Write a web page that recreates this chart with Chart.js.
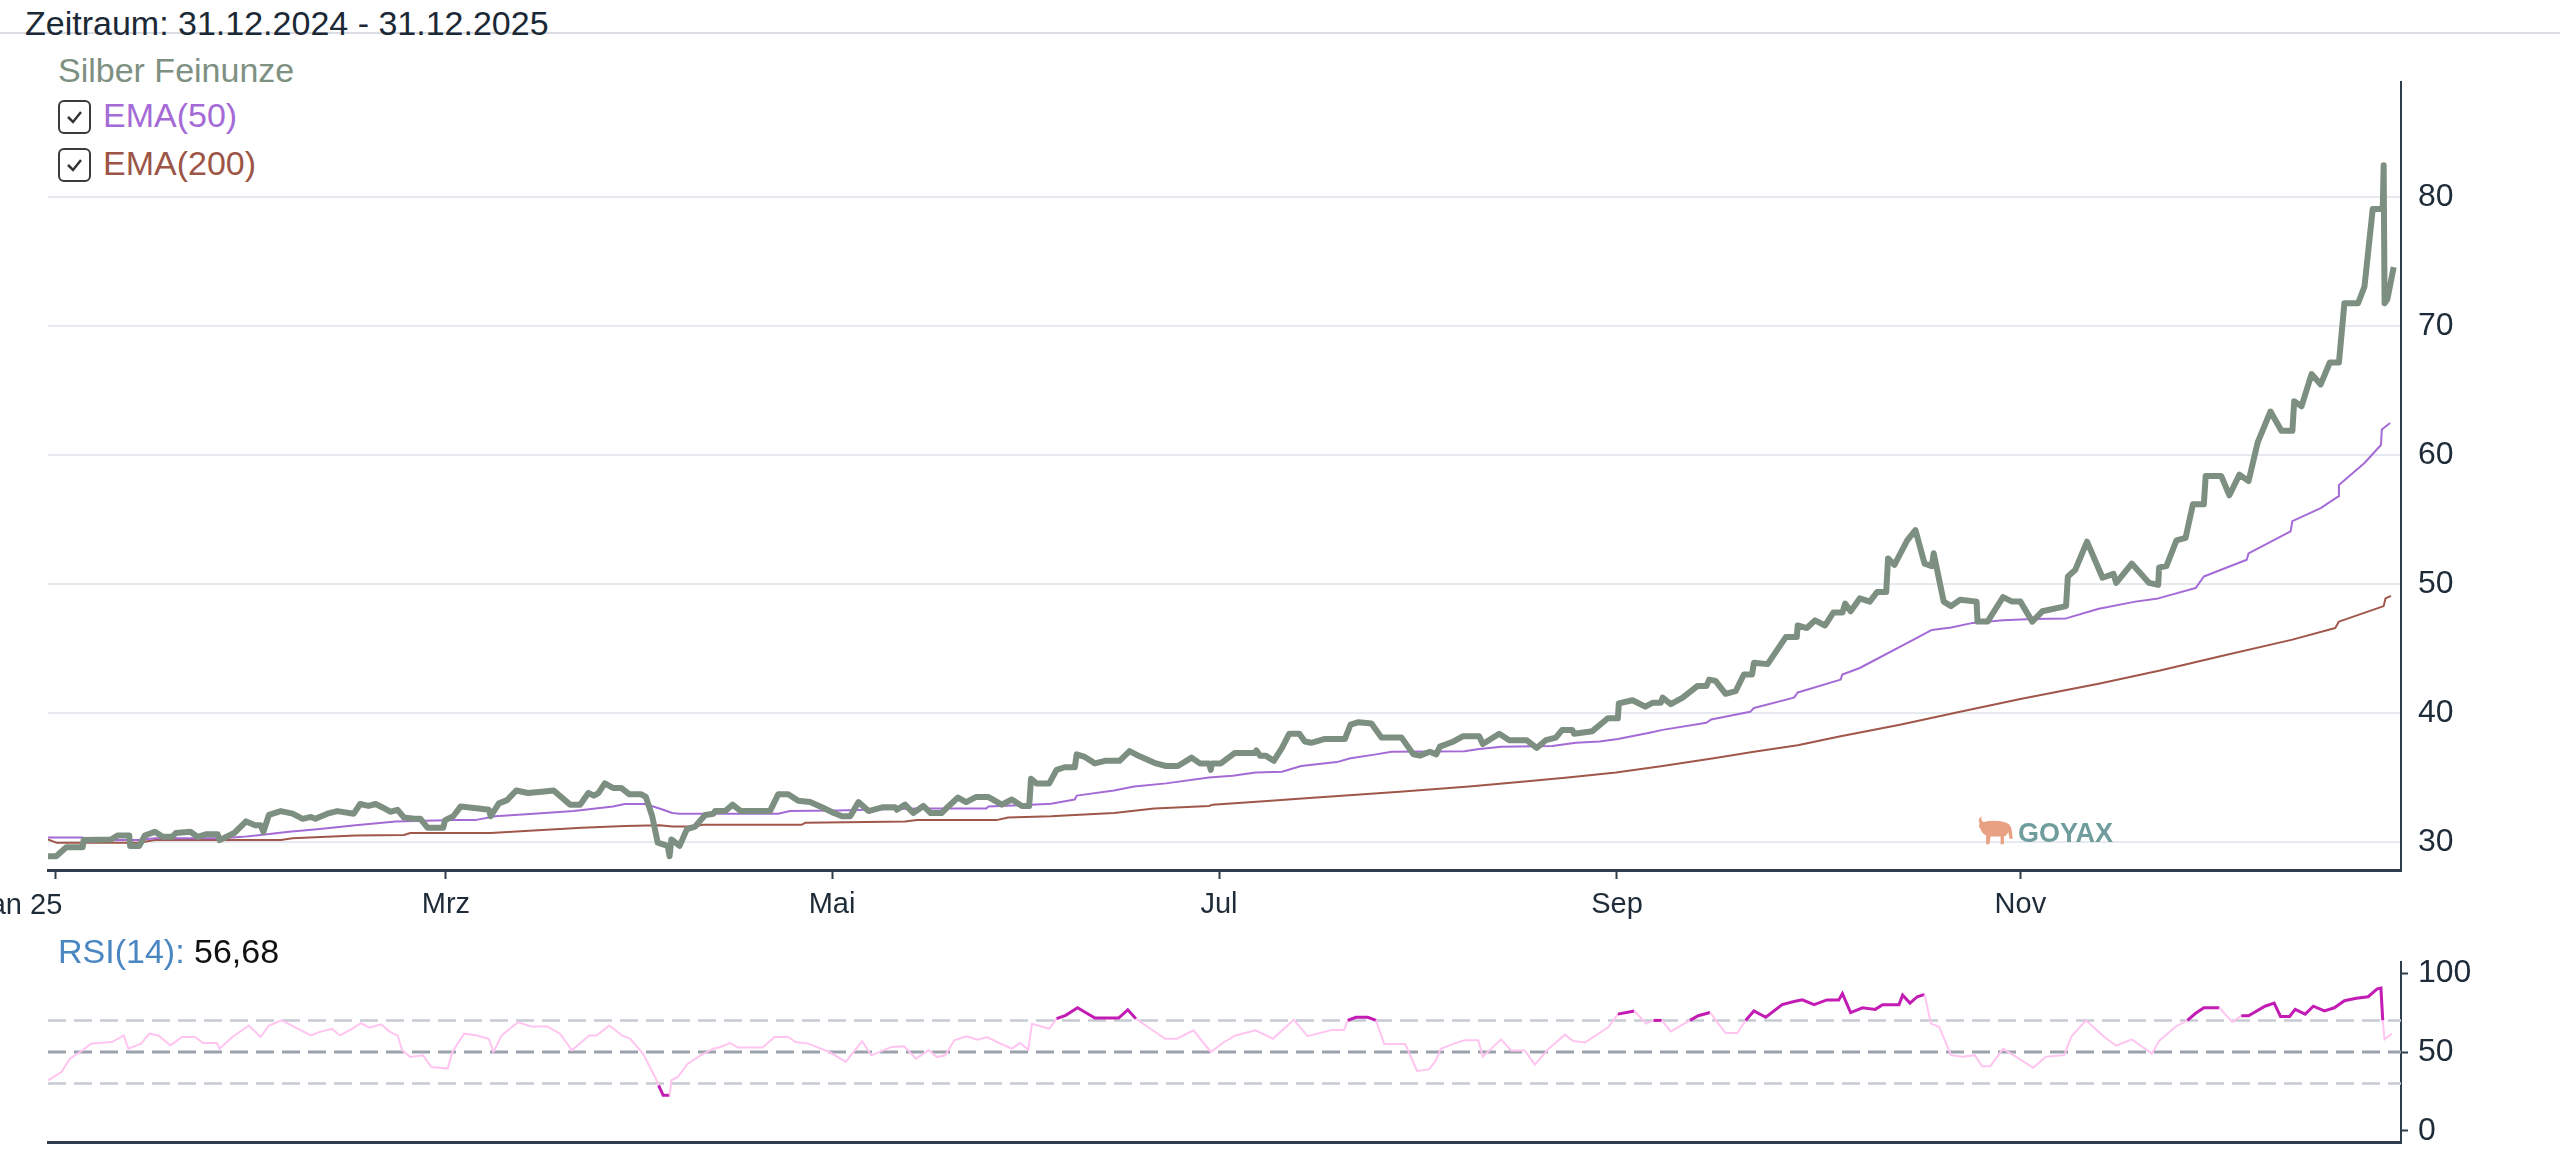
<!DOCTYPE html>
<html lang="de">
<head>
<meta charset="utf-8">
<title>Silber Feinunze</title>
<script src="https://cdn.jsdelivr.net/npm/chart.js@4.4.1/dist/chart.umd.min.js"></script>
<style>
  html, body { margin: 0; padding: 0; background: #fff; }
  body { width: 2560px; height: 1152px; position: relative; overflow: hidden; font-family: 'Liberation Sans', Arial, sans-serif; }
  .abs { position: absolute; line-height: 1; white-space: nowrap; }
  #rule { position: absolute; left: 0; top: 32px; width: 2560px; height: 2px; background: #dadde3; }
  #period { left: 25px; top: 6px; font-size: 34px; color: #1b2836; }
  #seriesName { left: 58px; top: 53px; font-size: 34px; color: #7e9082; }
  .ema { left: 103px; font-size: 34px; }
  #ema50Label { top: 98px; color: #a46bd6; }
  #ema200Label { top: 146px; color: #9c5547; }
  .box { position: absolute; left: 58px; }
  #rsiLabel { left: 58px; top: 934px; font-size: 34px; }
  #rsiLabel .name { color: #4a86c2; }
  #rsiLabel .val { color: #111; }
  #logoText { left: 2018px; top: 820px; font-size: 27px; font-weight: bold; color: #6f9c9c; }
  #logoBull { position: absolute; left: 1975px; top: 814px; }
  canvas { position: absolute; left: 0; }
  #priceChart { top: 0; }
  #rsiChart { top: 940px; }
</style>
</head>
<body>
<div id="rule"></div>
<div id="period" class="abs">Zeitraum: 31.12.2024 - 31.12.2025</div>
<div id="seriesName" class="abs">Silber Feinunze</div>
<svg class="box" style="top:100px" width="34" height="35"><rect x="1" y="1" width="31" height="32" rx="5" fill="#fff" stroke="#3a3a3a" stroke-width="2"/><path d="M10 17 L15 22 L23 12" fill="none" stroke="#333" stroke-width="2.5"/></svg>
<div id="ema50Label" class="abs ema">EMA(50)</div>
<svg class="box" style="top:148px" width="34" height="35"><rect x="1" y="1" width="31" height="32" rx="5" fill="#fff" stroke="#3a3a3a" stroke-width="2"/><path d="M10 17 L15 22 L23 12" fill="none" stroke="#333" stroke-width="2.5"/></svg>
<div id="ema200Label" class="abs ema">EMA(200)</div>

<canvas id="priceChart" width="2560" height="940" style="width:2560px;height:940px"></canvas>
<canvas id="rsiChart" width="2560" height="212" style="width:2560px;height:212px"></canvas>

<div id="rsiLabel" class="abs"><span class="name">RSI(14):</span> <span class="val">56,68</span></div>
<svg id="logoBull" width="40" height="34" viewBox="0 0 36 30"><path fill="#e9a184" d="M4 8 Q2 4 6 2 Q5 6 8 7 L12 6 Q20 5 26 7 Q32 8 33 14 L34 22 L31 22 L30 16 Q28 20 26 20 L26 27 L23 27 L23 20 L14 20 L13 27 L10 27 L10 19 Q6 17 5 13 Q3 12 4 8Z"/></svg>
<div id="logoText" class="abs">GOYAX</div>

<script>
// x = trading day index (0 = 31.12.2024), y = value
const priceSeries = [
  [0,28.9],[0.9,28.9],[2.0,29.6],[3.8,29.6],[3.9,30.15],[6.9,30.2],[7.6,30.5],[8.9,30.5],[9.0,29.7],[10.0,29.7],
  [10.6,30.5],[11.7,30.8],[12.6,30.4],[13.6,30.4],[14.0,30.7],[15.6,30.8],[16.4,30.4],[17.3,30.6],[18.6,30.6],[18.8,30.15],
  [20.4,30.7],[21.7,31.6],[22.7,31.3],[23.3,31.3],[23.6,30.8],[24.2,32.1],[25.5,32.4],[26.8,32.2],[27.9,31.8],[28.8,31.95],
  [29.3,31.8],[30.6,32.2],[31.7,32.4],[33.5,32.2],[34.2,32.95],[35.1,32.8],[35.9,32.95],[36.6,32.7],[37.5,32.35],[38.3,32.5],
  [39.0,31.9],[40.1,31.8],[40.8,31.8],[41.6,31.1],[43.3,31.1],[43.5,31.7],[44.4,32.0],[45.2,32.75],[47.2,32.6],[48.3,32.5],
  [48.5,32.0],[49.4,33.0],[50.3,33.25],[51.3,34.0],[52.6,33.8],[54.1,33.9],[55.4,34.0],[57.2,32.9],[58.3,32.9],[59.2,33.8],
  [59.8,33.6],[60.3,33.8],[61.0,34.55],[61.9,34.2],[62.8,34.2],[63.7,33.7],[65.0,33.7],[65.5,33.5],[66.2,32.0],[66.8,29.95],
  [67.9,29.7],[68.1,28.9],[68.3,30.2],[69.2,29.7],[70.0,31.0],[70.9,31.2],[72.0,32.1],[72.9,32.2],[73.1,32.4],[74.2,32.4],
  [75.0,32.9],[75.9,32.4],[79.1,32.4],[80.0,33.7],[81.1,33.7],[82.2,33.2],[83.5,33.1],[84.8,32.7],[86.1,32.25],[87.0,32.0],
  [87.9,32.0],[88.8,33.1],[89.9,32.4],[91.5,32.7],[92.8,32.7],[93.0,32.5],[93.9,32.9],[94.8,32.25],[95.9,32.8],[96.7,32.25],
  [97.9,32.25],[98.4,32.6],[99.7,33.45],[100.6,33.1],[101.7,33.5],[103.0,33.5],[104.5,32.9],[105.6,33.3],[106.7,32.8],[107.5,32.8],
  [107.7,34.9],[108.3,34.55],[109.7,34.55],[110.5,35.6],[111.4,35.8],[112.5,35.8],[112.7,36.8],[113.6,36.6],[114.7,36.1],[115.8,36.3],
  [117.4,36.3],[118.5,37.05],[119.6,36.65],[121.4,36.1],[122.5,35.9],[123.8,35.9],[125.3,36.55],[126.2,36.1],[127.2,36.1],[127.4,35.6],
  [127.5,36.1],[128.5,36.1],[130.0,36.9],[132.2,36.9],[132.4,37.1],[132.8,36.7],[133.4,36.7],[134.3,36.3],[135.2,37.3],[136.0,38.4],
  [137.1,38.4],[137.7,37.8],[138.4,37.7],[139.9,38.0],[142.1,38.0],[142.7,39.1],[143.6,39.3],[145.0,39.2],[146.1,38.1],[148.3,38.1],
  [149.6,36.8],[150.3,36.7],[151.4,37.0],[152.1,36.8],[152.5,37.4],[154.0,37.8],[155.0,38.2],[156.8,38.2],[157.2,37.6],[159.0,38.4],
  [160.1,37.9],[162.0,37.9],[163.1,37.3],[164.1,37.9],[165.2,38.1],[165.9,38.7],[167.0,38.7],[167.2,38.4],[169.2,38.6],[170.9,39.6],
  [172.0,39.6],[172.1,40.75],[173.6,41.0],[175.0,40.5],[175.8,40.8],[176.7,40.8],[176.9,41.2],[177.8,40.7],[179.1,41.2],[180.7,42.1],
  [181.7,42.1],[182.0,42.6],[182.7,42.5],[183.8,41.5],[184.9,41.7],[185.8,43.0],[186.7,43.0],[186.9,43.9],[188.4,43.8],[190.4,45.9],
  [191.6,45.9],[191.7,46.8],[192.7,46.6],[193.6,47.2],[194.7,46.8],[195.6,47.8],[196.6,47.8],[196.9,48.5],[197.5,47.9],[198.5,48.9],
  [199.6,48.65],[200.4,49.4],[201.4,49.4],[201.6,52.0],[202.3,51.5],[203.7,53.4],[204.6,54.2],[205.6,51.6],[206.4,51.4],[206.6,52.4],
  [207.7,48.65],[208.5,48.3],[209.5,48.8],[211.3,48.65],[211.4,47.1],[212.5,47.1],[214.2,49.0],[215.2,48.65],[216.1,48.65],[217.4,47.1],
  [218.5,47.9],[221.1,48.3],[221.3,50.6],[222.1,51.1],[223.4,53.3],[225.1,50.5],[226.3,50.8],[226.6,50.1],[228.3,51.6],[230.2,50.1],
  [231.2,49.95],[231.3,51.3],[232.1,51.4],[233.2,53.4],[234.2,53.6],[235.0,56.2],[236.2,56.2],[236.4,58.4],[238.1,58.4],[239.0,56.9],
  [240.1,58.5],[241.1,58.0],[242.1,61.0],[243.5,63.4],[244.7,61.9],[245.9,61.9],[246.1,64.2],[246.9,63.8],[248.0,66.3],[249.0,65.5],
  [250.0,67.2],[251.0,67.2],[251.6,71.8],[253.1,71.8],[253.8,73.1],[254.7,79.1],[255.8,79.1],[255.9,82.5],[256.0,71.8],[256.3,72.1],
  [257.0,74.6]
];

const ema50Series = [
  [0,30.35],[3.8,30.35],[3.9,30.15],[10.0,30.15],[11.7,30.3],[19.1,30.3],[21.3,30.4],[23.3,30.55],[26.4,30.8],[29.5,31.0],
  [33.7,31.3],[38.1,31.6],[44.6,31.7],[46.8,31.7],[49.0,32.0],[53.2,32.2],[57.6,32.4],[61.9,32.75],[63.2,32.95],[65.4,32.95],
  [67.0,32.6],[68.4,32.25],[69.2,32.2],[80.0,32.2],[81.3,32.4],[86.5,32.45],[95.2,32.6],[102.8,32.6],[103.0,32.75],[107.7,32.9],
  [109.9,32.97],[112.5,33.3],[112.7,33.6],[116.8,34.0],[119.0,34.3],[122.5,34.55],[127.2,35.0],[129.8,35.15],[132.3,35.4],[135.2,35.45],
  [137.3,35.9],[141.2,36.2],[142.7,36.5],[145.5,36.8],[147.2,37.0],[155.2,37.05],[156.6,37.2],[159.2,37.4],[164.8,37.45],[167.4,37.7],
  [170.0,37.8],[172.0,38.0],[175.6,38.5],[176.9,38.7],[181.7,39.25],[182.2,39.5],[186.5,40.1],[186.9,40.4],[191.3,41.2],[191.7,41.6],
  [196.4,42.6],[196.6,43.0],[198.5,43.5],[204.4,45.7],[206.4,46.45],[208.5,46.65],[210.9,47.0],[214.2,47.2],[217.4,47.3],[221.1,47.35],
  [224.7,48.1],[228.7,48.65],[231.2,48.9],[235.3,49.7],[236.2,50.6],[240.9,51.9],[241.1,52.4],[245.7,54.1],[245.9,54.9],[249.0,55.9],
  [250.9,56.8],[251.0,57.7],[253.8,59.4],[255.6,60.8],[255.7,62.0],[256.6,62.5]
];

const ema200Series = [
  [0,30.2],[0.9,29.95],[10.0,29.95],[11.7,30.15],[25.5,30.15],[26.8,30.3],[33.7,30.5],[39.0,30.55],[39.7,30.7],[48.5,30.7],
  [53.2,30.9],[58.5,31.1],[63.2,31.25],[67.0,31.3],[68.4,31.2],[70.9,31.2],[71.8,31.35],[82.6,31.35],[83.0,31.5],[93.9,31.6],
  [95.2,31.7],[103.9,31.7],[105.2,31.9],[109.9,32.0],[112.5,32.1],[116.8,32.25],[121.2,32.6],[127.2,32.8],[127.6,32.9],[132.8,33.15],
  [137.8,33.4],[148.1,33.9],[155.7,34.3],[161.8,34.7],[166.5,35.0],[171.8,35.4],[176.9,35.9],[182.5,36.5],[186.9,37.0],[191.7,37.5],
  [196.4,38.2],[202.9,39.1],[209.5,40.1],[216.1,41.1],[224.8,42.3],[231.4,43.3],[237.9,44.4],[245.9,45.7],[250.6,46.6],[251.0,47.1],
  [255.9,48.3],[256.1,48.9],[256.7,49.1]
];

const rsiSeries = [
  [0,32],[1.5,37.4],[2.4,45.8],[3.8,51.1],[4.7,55.3],[7.0,56.3],[8.3,60.5],[8.8,52.1],[10.2,55.3],[11.1,61.6],
  [12.1,60.5],[13.4,54.2],[14.7,59.5],[16.1,59.5],[17.0,55.7],[18.5,55.7],[18.8,52.1],[20.2,59.5],[22.0,66.8],[23.3,59.5],
  [24.2,66.8],[25.6,70.0],[27.4,64.7],[28.8,60.5],[29.7,62.6],[31.1,64.7],[32.0,60.5],[33.3,64.7],[34.3,68.3],[35.2,65.4],
  [36.5,67.5],[37.5,62.6],[38.3,60.5],[38.8,51.1],[39.7,46.8],[41.1,47.9],[42.0,40.5],[43.8,39.5],[44.3,50.0],[45.6,61.6],
  [47.0,60.5],[48.3,58.4],[48.8,50.0],[49.7,60.5],[51.5,68.9],[52.9,66.2],[54.7,66.2],[56.1,61.6],[57.4,51.1],[59.3,60.5],
  [60.1,60.5],[61.5,66.8],[62.9,60.5],[63.8,58.4],[65.2,48.9],[66.5,34.2],[66.9,28.9],[67.4,22.6],[68.1,22.6],[68.3,32.1],
  [69.0,34.2],[70.1,42.6],[71.5,47.9],[72.9,52.1],[73.7,53.2],[74.7,55.7],[75.6,52.8],[78.3,52.8],[79.6,59.5],[81.1,59.5],
  [81.9,56.3],[83.3,55.3],[85.6,50.0],[87.4,43.7],[89.2,56.9],[90.2,47.9],[92.4,53.2],[93.8,53.6],[95.1,45.8],[96.5,51.1],
  [97.4,46.8],[98.3,47.9],[99.3,57.4],[100.6,59.9],[101.9,57.8],[102.9,59.5],[104.2,55.7],[105.6,52.1],[106.5,55.7],[107.4,51.5],
  [107.8,67.9],[109.7,64.7],[110.5,71.1],[111.5,73.2],[112.8,78.0],[114.7,71.5],[117.3,71.5],[118.3,76.7],[119.2,71.1],[120.5,65.8],
  [122.4,58.4],[123.7,58.4],[125.5,63.7],[127.4,50.0],[128.7,55.7],[130.1,60.5],[132.3,63.7],[134.2,58.4],[136.5,70.4],[138.0,60],
  [140.7,64],[142.0,64],[142.4,70],[143.3,72],[144.6,72],[145.5,70],[146.4,55],[148.7,55],[150.0,38],[151.3,39],
  [152.0,44],[152.6,52],[153.9,55],[155.2,57.5],[156.7,57.5],[157.2,47],[159.2,58],[160.3,51],[161.8,51],[162.9,42],
  [164.4,52],[166.2,61],[167.1,57],[168.4,56],[171.0,66],[172.0,74],[173.8,76],[175.1,68],[175.9,70],[176.8,70],
  [177.8,63],[179.9,70],[180.8,73],[182.1,75],[183.0,68],[183.8,62],[185.1,62],[186.0,70],[186.9,76],[188.2,72],
  [190.0,80],[191.3,82],[192.2,83],[193.5,80],[194.9,83],[196.2,83],[196.6,87],[197.5,75],[198.8,78],[200.2,77],
  [201.0,80],[202.8,80],[203.2,86],[204.0,81],[204.8,85],[205.6,86.5],[206.3,68],[207.2,66],[208.5,48],[209.8,47],
  [211.1,48],[211.9,41],[212.8,41],[214.2,52],[215.9,46],[217.5,40],[218.9,47],[220.9,48],[221.7,60],[223.3,70],
  [225.2,60],[226.1,56],[226.6,54],[228.3,58],[230.5,49],[231.3,57],[233.1,66],[234.4,70],[235.3,74.5],[236.2,78],
  [237.9,78],[239.3,69],[240.3,73],[241.1,73],[242.9,79],[243.9,81],[244.6,72.5],[245.6,72.5],[246.2,77],[247.3,74],
  [248.2,79],[249.4,76],[250.5,78],[251.6,82.5],[252.9,84],[254.2,85],[255.2,90],[255.6,90.5],[255.8,70],[256.0,58],
  [256.8,61.6]
];

const monthTickIdx = [0.8, 43.6, 85.9, 128.3, 171.9, 216.1];
const monthLabels = ['Jan 25', 'Mrz', 'Mai', 'Jul', 'Sep', 'Nov'];
const priceTicks = [30, 40, 50, 60, 70, 80];
const rsiTicks = [0, 50, 100];
const rsiLevels = [30, 50, 70];

const X_MAX = 257.8;
const AXIS_COLOR = '#2f3e4d';
const TEXT_COLOR = '#1e2b38';
const FONT_FAMILY = "'Liberation Sans', Arial, sans-serif";
const X_FONT = { family: FONT_FAMILY, size: 29 };
const Y_FONT = { family: FONT_FAMILY, size: 32 };

Chart.defaults.font.family = FONT_FAMILY;
Chart.defaults.animation = false;

const toPoints = series => series.map(p => ({ x: p[0], y: p[1] }));

// keep the plot area exactly where the layout padding puts it
const noOverhang = s => { s.paddingTop = 0; s.paddingBottom = 0; s.paddingLeft = 0; s.paddingRight = 0; };

// Jan label sits left of its tick and is cut by the page edge
const firstMonthLabel = {
    id: 'firstMonthLabel',
    afterDraw(chart) {
        const sx = chart.scales.x;
        const ctx = chart.ctx;
        ctx.save();
        ctx.font = X_FONT.size + 'px ' + X_FONT.family;
        ctx.fillStyle = TEXT_COLOR;
        ctx.textAlign = 'right';
        ctx.textBaseline = 'middle';
        ctx.fillText(monthLabels[0], sx.getPixelForValue(monthTickIdx[0]) + 7, sx.top + 36);
        ctx.restore();
    }
};

new Chart(document.getElementById('priceChart'), {
    type: 'line',
    data: {
        datasets: [
            { label: 'Silber Feinunze', data: toPoints(priceSeries), borderColor: '#7d8f81', borderWidth: 6, order: 0 },
            { label: 'EMA(50)', data: toPoints(ema50Series), borderColor: '#a46bd6', borderWidth: 2, order: 1 },
            { label: 'EMA(200)', data: toPoints(ema200Series), borderColor: '#a0574a', borderWidth: 2, order: 2 }
        ]
    },
    options: {
        responsive: false,
        animation: false,
        elements: {
            point: { radius: 0 },
            line: { tension: 0, borderJoinStyle: 'round', fill: false }
        },
        layout: { padding: { left: 48, top: 82, right: 0, bottom: 0 } },
        plugins: { legend: { display: false }, tooltip: { enabled: false } },
        scales: {
            x: {
                type: 'linear',
                min: 0,
                max: X_MAX,
                afterBuildTicks: s => { s.ticks = monthTickIdx.map(v => ({ value: v })); },
                afterFit: s => { s.height = 70; noOverhang(s); },
                grid: { drawOnChartArea: false, drawTicks: true, tickLength: 9, tickColor: AXIS_COLOR, tickWidth: 2 },
                border: { display: true, color: AXIS_COLOR, width: 3 },
                ticks: {
                    autoSkip: false,
                    maxRotation: 0,
                    padding: 9,
                    font: X_FONT,
                    color: TEXT_COLOR,
                    callback: (v, i) => i === 0 ? '' : monthLabels[i]
                }
            },
            y: {
                position: 'right',
                min: 27.83,
                max: 88.96,
                afterBuildTicks: s => { s.ticks = priceTicks.map(v => ({ value: v })); },
                afterFit: s => { s.width = 159; noOverhang(s); },
                grid: { color: '#e6e9ef', lineWidth: 2, drawTicks: false },
                border: { display: true, color: AXIS_COLOR, width: 2 },
                ticks: { padding: 17, font: Y_FONT, color: TEXT_COLOR }
            }
        }
    },
    plugins: [firstMonthLabel]
});

const RSI_DARK = '#c21cb4';
const RSI_LIGHT = '#ffc4f0';
const isExtreme = ctx =>
    (ctx.p0.parsed.y >= 69.5 && ctx.p1.parsed.y >= 69.5) ||
    (ctx.p0.parsed.y <= 30.5 && ctx.p1.parsed.y <= 30.5);

const levelSets = rsiLevels.map(lvl => ({
    data: [{ x: 0, y: lvl }, { x: X_MAX, y: lvl }],
    borderColor: lvl === 50 ? '#9ba2ab' : '#c6cbd3',
    borderWidth: lvl === 50 ? 3 : 2.5,
    borderDash: [18, 8],
    order: 5
}));

new Chart(document.getElementById('rsiChart'), {
    type: 'line',
    data: {
        datasets: [
            {
                label: 'RSI(14)',
                data: toPoints(rsiSeries),
                borderColor: RSI_LIGHT,
                borderWidth: 2,
                order: 0,
                segment: {
                    borderColor: ctx => isExtreme(ctx) ? RSI_DARK : RSI_LIGHT,
                    borderWidth: ctx => isExtreme(ctx) ? 3 : 2
                }
            },
            ...levelSets
        ]
    },
    options: {
        responsive: false,
        animation: false,
        elements: {
            point: { radius: 0 },
            line: { tension: 0, fill: false }
        },
        layout: { padding: { left: 48, top: 22, right: 0, bottom: 0 } },
        plugins: { legend: { display: false }, tooltip: { enabled: false } },
        scales: {
            x: {
                type: 'linear',
                min: 0,
                max: X_MAX,
                afterFit: s => { s.height = 10; noOverhang(s); },
                ticks: { display: false },
                grid: { display: false },
                border: { display: true, color: AXIS_COLOR, width: 3 }
            },
            y: {
                position: 'right',
                min: -7,
                max: 107,
                afterBuildTicks: s => { s.ticks = rsiTicks.map(v => ({ value: v })); },
                afterFit: s => { s.width = 159; noOverhang(s); },
                grid: { drawOnChartArea: false, drawTicks: true, tickLength: 7, tickColor: AXIS_COLOR, tickWidth: 2 },
                border: { display: true, color: AXIS_COLOR, width: 2 },
                ticks: { padding: 10, font: Y_FONT, color: TEXT_COLOR }
            }
        }
    }
});
</script>
</body>
</html>
